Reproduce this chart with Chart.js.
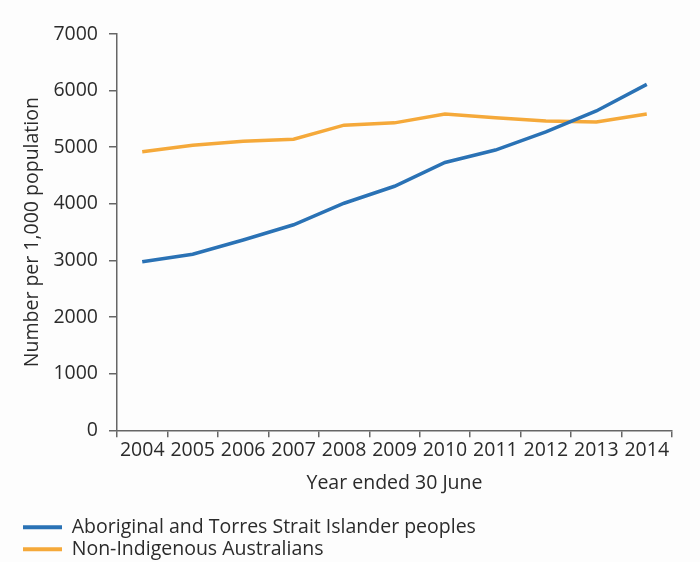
<!DOCTYPE html>
<html>
<head>
<meta charset="utf-8">
<script src="https://cdn.jsdelivr.net/npm/chart.js@4/dist/chart.umd.min.js"></script>
<style>
html,body{margin:0;padding:0;background:#fdfdfd;overflow:hidden;width:700px;height:562px;}
canvas{display:block;}
</style>
</head>
<body>
<canvas id="c" width="700" height="569"></canvas>
<script>
const years = ["2004","2005","2006","2007","2008","2009","2010","2011","2012","2013","2014"];
const indigenous = [2975, 3110, 3360, 3630, 4010, 4310, 4730, 4950, 5270, 5640, 6110];
const nonIndigenous = [4920, 5035, 5105, 5140, 5390, 5430, 5585, 5520, 5465, 5445, 5585];
const seriesNames = ["Aboriginal and Torres Strait Islander peoples", "Non-Indigenous Australians"];
const yTicks = [0, 1000, 2000, 3000, 4000, 5000, 6000, 7000];

const FONT = "'Open Sans', sans-serif";
const FS = 19.5;
const TXT = '#2b2b2b';
const AX = '#666666';
const BLUE = '#2a72b5';
const ORANGE = '#f5a93a';

new Chart(document.getElementById('c'), {
  type: 'line',
  data: {
    labels: years,
    datasets: [
      {label: seriesNames[0], data: indigenous, borderColor: BLUE, backgroundColor: BLUE, borderWidth: 3.5, pointRadius: 0, tension: 0, fill: false},
      {label: seriesNames[1], data: nonIndigenous, borderColor: ORANGE, backgroundColor: ORANGE, borderWidth: 3.5, pointRadius: 0, tension: 0, fill: false}
    ]
  },
  options: {
    responsive: false,
    animation: false,
    layout: {padding: {top: 34, right: 28, left: 20.5, bottom: 0}},
    plugins: {
      tooltip: {enabled: false},
      legend: {
        position: 'bottom',
        align: 'start',
        labels: {
          boxWidth: 39,
          boxHeight: 4,
          padding: 2.5,
          color: TXT,
          font: {family: FONT, size: FS},
          generateLabels: (chart) => chart.data.datasets.map((ds, i) => ({
            text: ds.label, fillStyle: ds.borderColor, strokeStyle: ds.borderColor,
            lineWidth: 0, hidden: false, datasetIndex: i, fontColor: TXT
          }))
        }
      }
    },
    scales: {
      x: {
        offset: true,
        grid: {offset: true, drawOnChartArea: false, drawTicks: true, tickLength: 7, color: AX, lineWidth: 1.5},
        border: {color: AX, width: 1.5},
        ticks: {color: TXT, font: {family: FONT, size: FS}, padding: 1, maxRotation: 0, autoSkip: false},
        title: {display: true, text: 'Year ended 30 June', color: TXT, font: {family: FONT, size: FS}, padding: {top: 0, bottom: 20}},
        afterFit: (s) => { s.height = 84.75; }
      },
      y: {
        min: 0, max: 7000,
        afterBuildTicks: (s) => { s.ticks = yTicks.map(v => ({value: v})); },
        grid: {drawOnChartArea: false, drawTicks: true, tickLength: 8, color: AX, lineWidth: 1.5},
        border: {color: AX, width: 1.5},
        ticks: {color: TXT, font: {family: FONT, size: FS}, padding: 11, callback: (v) => String(v)},
        title: {display: true, text: 'Number per 1,000 population', color: TXT, font: {family: FONT, size: FS}, padding: {top: 0, bottom: 0}},
        afterFit: (s) => { s.width = 96.5; }
      }
    }
  }
});
</script>
</body>
</html>
